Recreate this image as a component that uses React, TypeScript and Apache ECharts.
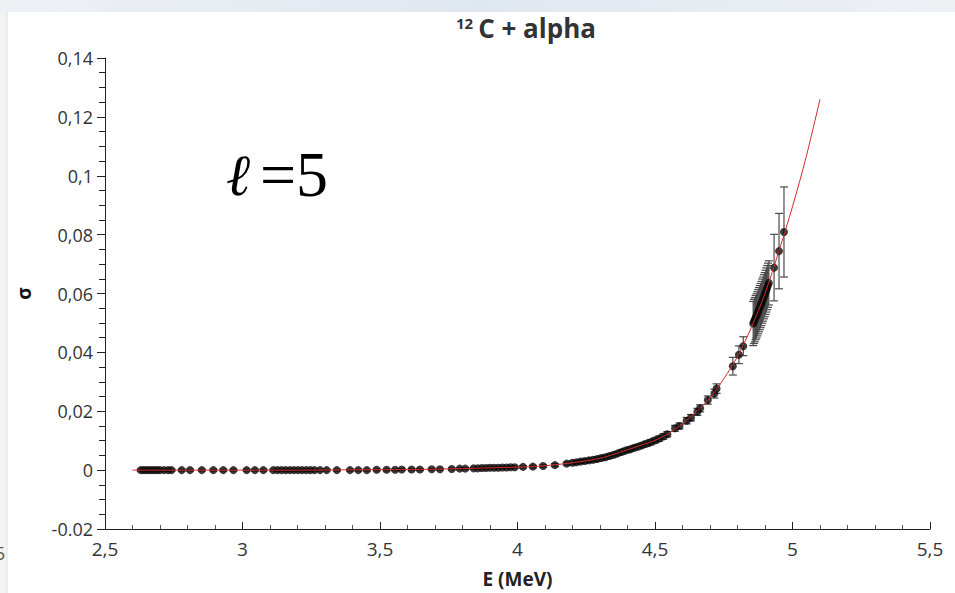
import React, { useEffect, useRef } from "react";
import * as echarts from "echarts";

// measured points: energy (MeV), cross section, error
const energies = [
  2.63, 2.64, 2.65, 2.66, 2.67, 2.68, 2.69, 2.7, 2.715, 2.73, 2.742, 2.779, 2.809, 2.852, 2.894, 2.93, 2.967,
  3.015, 3.045, 3.076, 3.112, 3.127, 3.142, 3.157, 3.172, 3.187, 3.202, 3.217, 3.232, 3.247, 3.262, 3.282,
  3.306, 3.343, 3.391, 3.421, 3.452, 3.488, 3.524, 3.555, 3.579, 3.615, 3.645, 3.688, 3.718, 3.761, 3.79,
  3.81, 3.84, 3.855, 3.87, 3.885, 3.9, 3.915, 3.93, 3.945, 3.96, 3.975, 3.99, 4.02, 4.056, 4.093, 4.136,
  4.179, 4.2, 4.215, 4.23, 4.245, 4.26, 4.275, 4.29, 4.305, 4.32, 4.335, 4.35, 4.365, 4.38, 4.395, 4.41,
  4.425, 4.44, 4.455, 4.47, 4.485, 4.5, 4.515, 4.53, 4.545, 4.573, 4.589, 4.615, 4.631, 4.654, 4.664, 4.692,
  4.716, 4.724, 4.783, 4.805, 4.821, 4.857, 4.86, 4.863, 4.866, 4.869, 4.872, 4.875, 4.878, 4.881, 4.884,
  4.887, 4.89, 4.893, 4.896, 4.899, 4.902, 4.905, 4.908, 4.911, 4.914, 4.933, 4.951, 4.969,
];
const sigmas = [
  0, 0, 0, 0, 0, 0, 0, 0, 0, 0, 0, 0, 0, 0, 0, 0, 0,
  0, 0, 0, 0, 0, 0, 0, 0, 0, 0, 0, 0, 0, 0, 0,
  0, 0, 0, 0, 0, 0.0001, 0.0001, 0.0001, 0.0002, 0.0002, 0.0002, 0.0003, 0.0003, 0.0004, 0.0005,
  0.0005, 0.0006, 0.0006, 0.0007, 0.0007, 0.0008, 0.0008, 0.0008, 0.0009, 0.0009, 0.001, 0.001, 0.0011, 0.0012, 0.0014, 0.0017,
  0.0022, 0.0025, 0.0027, 0.0029, 0.0031, 0.0033, 0.0035, 0.0038, 0.0041, 0.0044, 0.0048, 0.0052, 0.0057, 0.0062, 0.0067, 0.0071,
  0.0076, 0.008, 0.0085, 0.009, 0.0095, 0.0101, 0.0107, 0.0114, 0.0122, 0.0142, 0.015, 0.0168, 0.0178, 0.0198, 0.021, 0.0238,
  0.026, 0.0277, 0.0353, 0.0392, 0.0421, 0.0498, 0.0505, 0.0511, 0.0518, 0.0524, 0.0531, 0.0538, 0.0545, 0.0552, 0.0559,
  0.0566, 0.0574, 0.0581, 0.0589, 0.0596, 0.0604, 0.0612, 0.062, 0.0628, 0.0636, 0.0688, 0.0744, 0.0809,
];
const errors = [
  0.0003, 0.0003, 0.0003, 0.0003, 0.0003, 0.0003, 0.0003, 0.0003, 0.0003, 0.0003, 0.0003, 0.0003, 0.0003, 0.0003, 0.0003, 0.0003, 0.0003,
  0.0003, 0.0003, 0.0003, 0.0003, 0.0003, 0.0003, 0.0003, 0.0003, 0.0003, 0.0003, 0.0003, 0.0003, 0.0003, 0.0003, 0.0003,
  0.0003, 0.0003, 0.0003, 0.0003, 0.0003, 0.0003, 0.0003, 0.0003, 0.0003, 0.0003, 0.0003, 0.0003, 0.0003, 0.0003, 0.0003,
  0.0003, 0.0003, 0.0003, 0.0003, 0.0003, 0.0003, 0.0003, 0.0003, 0.0003, 0.0003, 0.0003, 0.0003, 0.0004, 0.0004, 0.0004, 0.0005,
  0.0005, 0.0006, 0.0006, 0.0006, 0.0006, 0.0006, 0.0006, 0.0007, 0.0007, 0.0007, 0.0007, 0.0007, 0.0007, 0.0008, 0.0008, 0.0008,
  0.0008, 0.0008, 0.0008, 0.0009, 0.0009, 0.0009, 0.0009, 0.0009, 0.0009, 0.001, 0.001, 0.0011, 0.0011, 0.0012, 0.0012, 0.0014,
  0.0015, 0.0016, 0.003, 0.003, 0.0032, 0.0075, 0.0075, 0.0075, 0.0075, 0.0075, 0.0075, 0.0075, 0.0075, 0.0075, 0.0075,
  0.0075, 0.0075, 0.0075, 0.0075, 0.0075, 0.0075, 0.0075, 0.0075, 0.0075, 0.0075, 0.0113, 0.0128, 0.0153,
];

// fitted curve
const fitE = [2.6, 2.8, 3.0, 3.2, 3.4, 3.6, 3.8, 3.9, 4.0, 4.1, 4.2, 4.3, 4.35, 4.4, 4.45, 4.5, 4.55, 4.6, 4.65, 4.7, 4.75, 4.8, 4.85, 4.9, 4.95, 5.0, 5.05, 5.1];
const fitSigma = [0, 0, 0, 0, 0.0001, 0.0002, 0.0005, 0.0008, 0.001, 0.0015, 0.0025, 0.004, 0.0054, 0.0069, 0.0085, 0.0101, 0.0125, 0.0158, 0.0198, 0.0245, 0.031, 0.0386, 0.0484, 0.06, 0.0742, 0.0895, 0.1065, 0.126];

const xTicks = { min: 2.5, max: 5.5, interval: 0.5 };
const yTicks = { min: -0.02, max: 0.14, interval: 0.02 };

const fmtComma = (v: number) => {
  const r = +v.toFixed(3);
  if (r < 0) return String(r);
  return String(r).replace(".", ",");
};

export default function App() {
  const ref = useRef<HTMLDivElement>(null);
  useEffect(() => {
    document.body.style.margin = "0";
    if (!ref.current) return;
    const chart = echarts.init(ref.current, null, { renderer: "svg" });
    const pts = energies.map((e, i) => [e, sigmas[i], errors[i]]);
    const fit = fitE.map((e, i) => [e, fitSigma[i]]);
    const labelFont = "Open Sans";
    chart.setOption({
      animation: false,
      backgroundColor: "#ffffff",
      title: {
        text: "{sup|12} {main|C + alpha}",
        left: 451,
        top: 10,
        textStyle: {
          rich: {
            sup: { fontSize: 15, fontWeight: "bold", color: "#333", fontFamily: labelFont, verticalAlign: "top", padding: [0, 0, 10, 0] },
            main: { fontSize: 26, fontWeight: "bold", color: "#333", fontFamily: labelFont },
          },
        },
      },
      grid: { left: 105, right: 25, top: 58, bottom: 64, containLabel: false },
      xAxis: {
        type: "value",
        min: xTicks.min,
        max: xTicks.max,
        interval: xTicks.interval,
        name: "E (MeV)",
        nameLocation: "middle",
        nameGap: 40,
        nameTextStyle: { fontSize: 19, fontWeight: "bold", color: "#222", fontFamily: labelFont },
        axisLine: { show: true, onZero: false, lineStyle: { color: "#222", width: 1 } },
        axisTick: { show: true, inside: true, length: 7, lineStyle: { color: "#222" } },
        minorTick: { show: true, splitNumber: 5, length: 4, lineStyle: { color: "#555" } },
        splitLine: { show: false },
        axisLabel: { fontSize: 19, color: "#333", fontFamily: labelFont, margin: 10, formatter: fmtComma },
      },
      yAxis: {
        type: "value",
        min: yTicks.min,
        max: yTicks.max,
        interval: yTicks.interval,
        name: "σ",
        nameLocation: "middle",
        nameGap: 72,
        nameRotate: 90,
        nameTextStyle: { fontSize: 19, fontWeight: "bold", color: "#111", fontFamily: labelFont },
        axisLine: { show: true, onZero: false, lineStyle: { color: "#222", width: 1 } },
        axisTick: { show: true, inside: false, length: 8, lineStyle: { color: "#222" } },
        minorTick: { show: true, splitNumber: 4, length: 6, lineStyle: { color: "#222" } },
        splitLine: { show: false },
        axisLabel: { fontSize: 18, color: "#333", fontFamily: labelFont, margin: 12, formatter: fmtComma },
      },
      graphic: [
        {
          type: "rect",
          shape: { x: 0, y: 0, width: 955, height: 12 },
          style: {
            fill: new echarts.graphic.LinearGradient(0, 0, 1, 0, [
              { offset: 0, color: "#eef1f4" },
              { offset: 0.5, color: "#dfe7f0" },
              { offset: 1, color: "#eef1f4" },
            ]),
          },
          silent: true,
        },
        { type: "rect", shape: { x: 0, y: 12, width: 7, height: 581 }, style: { fill: "#f3f3f3" }, silent: true },
        { type: "line", shape: { x1: 7, y1: 12, x2: 7, y2: 593 }, style: { stroke: "#dddddd", lineWidth: 1 }, silent: true },
        {
          type: "text",
          x: 226,
          y: 146,
          style: {
            text: "ℓ",
            font: "italic 58px 'DejaVu Serif'",
            fill: "#000",
          },
          silent: true,
        },
        {
          type: "text",
          x: 260,
          y: 142,
          style: {
            text: "=5",
            font: "64px 'Liberation Serif', 'Times New Roman', serif",
            fill: "#000",
          },
          silent: true,
        },
        {
          type: "text",
          x: -5,
          y: 544,
          style: { text: "5", fontSize: 18, fill: "#555", fontFamily: labelFont },
          silent: true,
        },
      ],
      series: [
        {
          type: "custom",
          name: "errors",
          data: pts,
          z: 1,
          renderItem: (params: any, api: any) => {
            const x = api.value(0);
            const y = api.value(1);
            const e = api.value(2);
            const top = api.coord([x, y + e]);
            const bot = api.coord([x, y - e]);
            const w = 4;
            const st = { stroke: "#4a4a4a", lineWidth: 1.2 };
            return {
              type: "group",
              children: [
                { type: "line", shape: { x1: top[0], y1: top[1], x2: bot[0], y2: bot[1] }, style: st },
                { type: "line", shape: { x1: top[0] - w, y1: top[1], x2: top[0] + w, y2: top[1] }, style: st },
                { type: "line", shape: { x1: bot[0] - w, y1: bot[1], x2: bot[0] + w, y2: bot[1] }, style: st },
              ],
            };
          },
        },
        {
          type: "scatter",
          name: "data",
          data: pts.map((p) => [p[0], p[1]]),
          symbol: "circle",
          symbolSize: 8,
          itemStyle: { color: "#0a0a0a" },
          z: 2,
        },
        {
          type: "line",
          name: "fit",
          data: fit,
          smooth: 0.3,
          showSymbol: false,
          symbol: "none",
          lineStyle: { color: "#d42a2a", width: 1 },
          z: 3,
        },
      ],
    });
    return () => chart.dispose();
  }, []);
  return <div ref={ref} style={{ width: 955, height: 593 }} />;
}
